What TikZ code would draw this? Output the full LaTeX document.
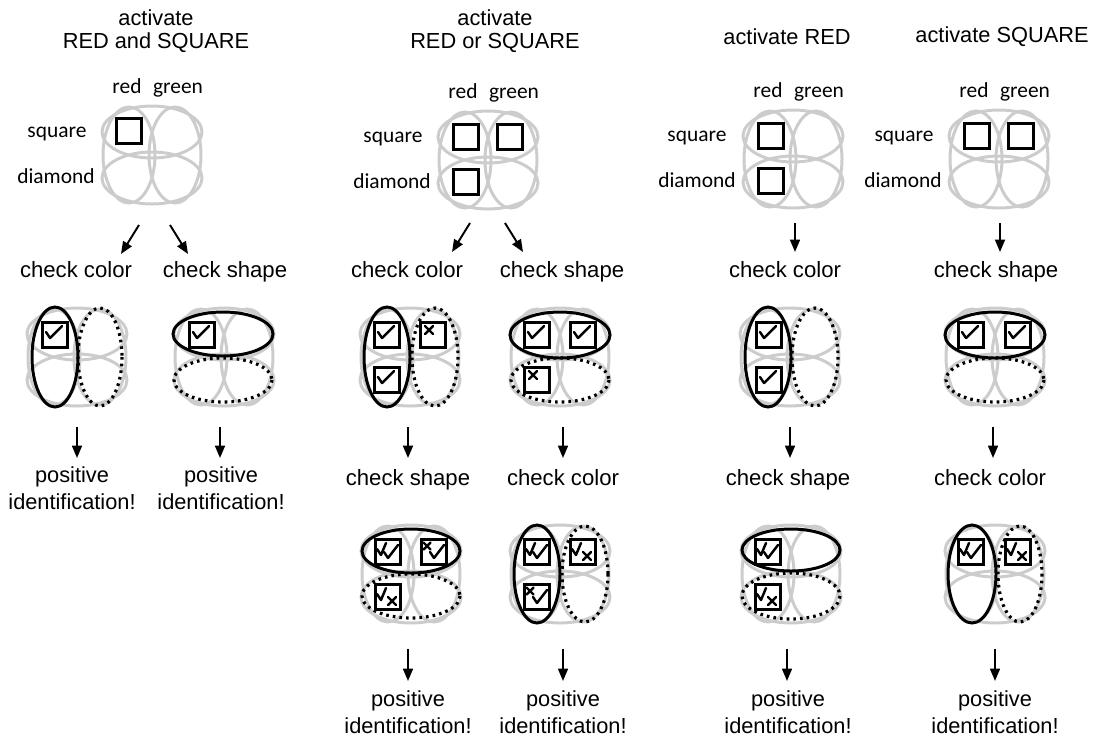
\documentclass[tikz,border=0pt]{standalone}
\usepackage{fontspec}
\setmainfont{Liberation Sans}
\newfontfamily\lblfont{Carlito}
\usetikzlibrary{arrows.meta}

\begin{document}
\begin{tikzpicture}[x=0.02cm, y=-0.02cm]
        % ================= 样式定义 =================
        % 文字:标题、检查步骤、结果;格子标签用 Carlito
        \tikzset{
            head/.style={font=\fontsize{12.4}{13}\selectfont, align=center, inner sep=0pt},
            chk/.style={font=\fontsize{12.6}{14}\selectfont, anchor=base, inner sep=0pt},
            res/.style={font=\fontsize{12.4}{15.3}\selectfont, align=center, inner sep=0pt},
            lbl/.style={font=\lblfont\fontsize{12.2}{14}\selectfont, anchor=base, inner sep=0pt},
            % 灰色背景格、黑色方块、实线/点线椭圆
            bg/.style={draw=black!20, line width=1.7pt},
            cell/.style={draw=black, line width=1.8pt, minimum size=0.5cm, inner sep=0pt},
            hit/.style={draw=black, line width=1.7pt},
            miss/.style={draw=black, line width=1.8pt, dash pattern=on 1.5pt off 2.3pt},
            arr/.style={line width=1.1pt, -{Triangle[length=7pt, width=5.6pt]}},
            mk/.style={line width=1.4pt, line cap=round, line join=round},
            board/.pic={
                \draw[bg] (-23,0) ellipse [x radius=26, y radius=48];
                \draw[bg] (23,0) ellipse [x radius=26, y radius=48];
                \draw[bg] (0,-23) ellipse [x radius=50, y radius=26];
                \draw[bg] (0,23) ellipse [x radius=50, y radius=26];
            },
            % 勾和叉:单次检查 / 第一次(左上) / 第二次(右下)
            tick/.pic={\draw[mk] (-9,-3) -- (-5,3) -- (7,-9);},
            crs/.pic={\draw[mk] (-8,-9) -- (0,-1) (-8,-1) -- (0,-9);},
            tickA/.pic={\draw[mk] (-11,-3) -- (-7,3) -- (-2,-9);},
            tickB/.pic={\draw[mk] (-4,0) -- (0,6) -- (10,-7);},
            crsA/.pic={\draw[mk] (-10.5,-9.5) -- (-3.5,-2.5) (-10.5,-2.5) -- (-3.5,-9.5);},
            crsB/.pic={\draw[mk] (0,0) -- (8,8) (0,8) -- (8,0);}
        }
        \useasboundingbox (0,0) rectangle (1094,741);

        % ================= 面板1:RED and SQUARE =================
        \node[head] (t1) at (156,31) {activate\\RED and SQUARE};
        \pic at (152,155) {board};
        \node[lbl] (r1) at (127,93) {red};
        \node[lbl] (g1) at (178,93) {green};
        \node[lbl] (s1) at (57,137) {square};
        \node[lbl] (d1) at (56,183) {diamond};
        \node[cell] (q1) at (129,131) {};

        \coordinate (a1s) at (139,225); \coordinate (a1e) at (121,254);
        \coordinate (b1s) at (170,225); \coordinate (b1e) at (188,254);
        \draw[arr] (a1s) -- (a1e);
        \draw[arr] (b1s) -- (b1e);
        \node[chk] (k1a) at (76,277) {check color};
        \node[chk] (k1b) at (225,277) {check shape};

        % 颜色检查
        \pic at (77,357) {board};
        \draw[hit] (55,357) ellipse [x radius=23, y radius=50];
        \draw[miss] (100,357) ellipse [x radius=22, y radius=49];
        \node[cell] (c1a) at (55,335) {}; \pic at (c1a) {tick};
        % 形状检查
        \pic at (224,357) {board};
        \draw[hit] (223,334) ellipse [x radius=50, y radius=22];
        \draw[miss] (223,380) ellipse [x radius=49, y radius=22];
        \node[cell] (c1b) at (202,335) {}; \pic at (c1b) {tick};

        \coordinate (e1s) at (77,427); \coordinate (e1e) at (77,458);
        \coordinate (f1s) at (220,427); \coordinate (f1e) at (220,458);
        \draw[arr] (e1s) -- (e1e);
        \draw[arr] (f1s) -- (f1e);
        \node[res] (p1a) at (72,488) {positive\\identification!};
        \node[res] (p1b) at (221,488) {positive\\identification!};

        % ================= 面板2:RED or SQUARE =================
        \node[head] (t2) at (495,31) {activate\\RED or SQUARE};
        \pic at (488,160) {board};
        \node[lbl] (r2) at (463,98) {red};
        \node[lbl] (g2) at (514,98) {green};
        \node[lbl] (s2) at (393,142) {square};
        \node[lbl] (d2) at (392,188) {diamond};
        \node[cell] (q2a) at (466,137) {};
        \node[cell] (q2b) at (510,137) {};
        \node[cell] (q2c) at (466,182) {};

        \coordinate (a2s) at (470,223); \coordinate (a2e) at (452,252);
        \coordinate (b2s) at (505,223); \coordinate (b2e) at (523,252);
        \draw[arr] (a2s) -- (a2e);
        \draw[arr] (b2s) -- (b2e);
        \node[chk] (k2a) at (407,277) {check color};
        \node[chk] (k2b) at (562,277) {check shape};

        % 先颜色
        \pic at (410,357) {board};
        \draw[hit] (387,357) ellipse [x radius=23, y radius=50];
        \draw[miss] (435,357) ellipse [x radius=23, y radius=49];
        \node[cell] (c2a) at (387,335) {}; \pic at (c2a) {tick};
        \node[cell] (c2b) at (433,335) {}; \pic at (c2b) {crs};
        \node[cell] (c2c) at (387,380) {}; \pic at (c2c) {tick};
        % 先形状
        \pic at (560,357) {board};
        \draw[hit] (560,335) ellipse [x radius=50, y radius=23];
        \draw[miss] (560,380) ellipse [x radius=49, y radius=22];
        \node[cell] (c2d) at (537,335) {}; \pic at (c2d) {tick};
        \node[cell] (c2e) at (583,335) {}; \pic at (c2e) {tick};
        \node[cell] (c2f) at (537,380) {}; \pic at (c2f) {crs};

        \coordinate (e2s) at (408,427); \coordinate (e2e) at (408,458);
        \coordinate (f2s) at (563,427); \coordinate (f2e) at (563,458);
        \draw[arr] (e2s) -- (e2e);
        \draw[arr] (f2s) -- (f2e);
        \node[chk] (k2c) at (408,485) {check shape};
        \node[chk] (k2d) at (563,485) {check color};

        % 再形状
        \pic at (411,574) {board};
        \draw[hit] (411,551) ellipse [x radius=49, y radius=22];
        \draw[miss] (411,596) ellipse [x radius=49, y radius=22];
        \node[cell] (c2g) at (388,552) {}; \pic at (c2g) {tickA}; \pic at (c2g) {tickB};
        \node[cell] (c2h) at (434,552) {}; \pic at (c2h) {crsA}; \pic at (c2h) {tickB};
        \node[cell] (c2i) at (388,597) {}; \pic at (c2i) {tickA}; \pic at (c2i) {crsB};
        % 再颜色
        \pic at (560,574) {board};
        \draw[hit] (537,574) ellipse [x radius=23, y radius=49];
        \draw[miss] (585,574) ellipse [x radius=23, y radius=48];
        \node[cell] (c2j) at (537,552) {}; \pic at (c2j) {tickA}; \pic at (c2j) {tickB};
        \node[cell] (c2k) at (583,552) {}; \pic at (c2k) {tickA}; \pic at (c2k) {crsB};
        \node[cell] (c2l) at (537,597) {}; \pic at (c2l) {crsA}; \pic at (c2l) {tickB};

        \coordinate (h2s) at (408,649); \coordinate (h2e) at (408,681);
        \coordinate (i2s) at (563,649); \coordinate (i2e) at (563,681);
        \draw[arr] (h2s) -- (h2e);
        \draw[arr] (i2s) -- (i2e);
        \node[res] (p2a) at (408,712) {positive\\identification!};
        \node[res] (p2b) at (563,712) {positive\\identification!};

        % ================= 面板3:RED =================
        \node[head] (t3) at (787,37) {activate RED};
        \pic at (793,159) {board};
        \node[lbl] (r3) at (768,97) {red};
        \node[lbl] (g3) at (819,97) {green};
        \node[lbl] (s3) at (697,141) {square};
        \node[lbl] (d3) at (697,187) {diamond};
        \node[cell] (q3a) at (771,136) {};
        \node[cell] (q3b) at (771,181) {};

        \coordinate (a3s) at (795,223); \coordinate (a3e) at (795,252);
        \draw[arr] (a3s) -- (a3e);
        \node[chk] (k3a) at (785,277) {check color};

        \pic at (790,357) {board};
        \draw[hit] (768,357) ellipse [x radius=23, y radius=50];
        \draw[miss] (815,357) ellipse [x radius=23, y radius=49];
        \node[cell] (c3a) at (769,335) {}; \pic at (c3a) {tick};
        \node[cell] (c3b) at (769,380) {}; \pic at (c3b) {tick};

        \coordinate (e3s) at (790,427); \coordinate (e3e) at (790,458);
        \draw[arr] (e3s) -- (e3e);
        \node[chk] (k3b) at (788,485) {check shape};

        \pic at (791,574) {board};
        \draw[hit] (791,550) ellipse [x radius=49, y radius=21];
        \draw[miss] (791,596) ellipse [x radius=49, y radius=23];
        \node[cell] (c3c) at (768,552) {}; \pic at (c3c) {tickA}; \pic at (c3c) {tickB};
        \node[cell] (c3d) at (768,597) {}; \pic at (c3d) {tickA}; \pic at (c3d) {crsB};

        \coordinate (h3s) at (787,649); \coordinate (h3e) at (787,681);
        \draw[arr] (h3s) -- (h3e);
        \node[res] (p3) at (788,712) {positive\\identification!};

        % ================= 面板4:SQUARE =================
        \node[head] (t4) at (1002,37) {activate SQUARE};
        \pic at (999,159) {board};
        \node[lbl] (r4) at (974,97) {red};
        \node[lbl] (g4) at (1025,97) {green};
        \node[lbl] (s4) at (904,141) {square};
        \node[lbl] (d4) at (903,187) {diamond};
        \node[cell] (q4a) at (977,136) {};
        \node[cell] (q4b) at (1021,136) {};

        \coordinate (a4s) at (1000,223); \coordinate (a4e) at (1000,252);
        \draw[arr] (a4s) -- (a4e);
        \node[chk] (k4a) at (996,277) {check shape};

        \pic at (995,357) {board};
        \draw[hit] (995,335) ellipse [x radius=50, y radius=23];
        \draw[miss] (995,380) ellipse [x radius=49, y radius=22];
        \node[cell] (c4a) at (971,335) {}; \pic at (c4a) {tick};
        \node[cell] (c4b) at (1018,335) {}; \pic at (c4b) {tick};

        \coordinate (e4s) at (993,427); \coordinate (e4e) at (993,458);
        \draw[arr] (e4s) -- (e4e);
        \node[chk] (k4b) at (990,485) {check color};

        \pic at (995,574) {board};
        \draw[hit] (972,574) ellipse [x radius=24, y radius=49];
        \draw[miss] (1020,574) ellipse [x radius=22, y radius=48];
        \node[cell] (c4c) at (971,552) {}; \pic at (c4c) {tickA}; \pic at (c4c) {tickB};
        \node[cell] (c4d) at (1018,552) {}; \pic at (c4d) {tickA}; \pic at (c4d) {crsB};

        \coordinate (h4s) at (995,649); \coordinate (h4e) at (995,681);
        \draw[arr] (h4s) -- (h4e);
        \node[res] (p4) at (995,712) {positive\\identification!};

    \end{tikzpicture}
\end{document}
